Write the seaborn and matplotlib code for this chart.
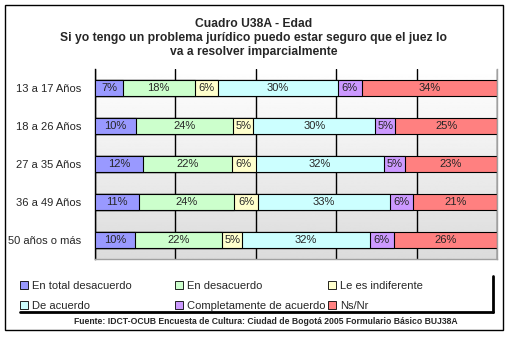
import numpy as np
import pandas as pd
import seaborn as sns
import matplotlib.pyplot as plt
from matplotlib.patches import Rectangle, Patch

sns.set_theme(style="white")
plt.rcParams['font.family'] = ['Liberation Sans', 'DejaVu Sans']

categories = ["13 a 17 Años", "18 a 26 Años", "27 a 35 Años", "36 a 49 Años", "50 años o más"]
series = ["En total desacuerdo", "En desacuerdo", "Le es indiferente",
          "De acuerdo", "Completamente de acuerdo", "Ns/Nr"]
total_desacuerdo = [7, 10, 12, 11, 10]
desacuerdo = [18, 24, 22, 24, 22]
indiferente = [6, 5, 6, 6, 5]
de_acuerdo = [30, 30, 32, 33, 32]
completamente = [6, 5, 5, 6, 6]
ns_nr = [34, 25, 23, 21, 26]
colors = ["#9999FF", "#CCFFCC", "#FFFFCC", "#CCFFFF", "#CC99FF", "#FF8080"]

title = "Cuadro U38A - Edad\nSi yo tengo un problema jurídico puedo estar seguro que el juez lo\nva a resolver imparcialmente"
source = "Fuente: IDCT-OCUB Encuesta de Cultura: Ciudad de Bogotá 2005 Formulario Básico BUJ38A"

vals = np.array([total_desacuerdo, desacuerdo, indiferente, de_acuerdo, completamente, ns_nr], dtype=float)
shares = vals / vals.sum(axis=0) * 100  # 100% stacked
cum = np.cumsum(shares, axis=0)

W, H = 509, 339
fig = plt.figure(figsize=(W / 100, H / 100), dpi=100)
fig.patches.append(Rectangle((5/W, 1-330/H), 498/W, 325/H, transform=fig.transFigure,
                             fill=False, edgecolor='black', linewidth=1.0))
ax = fig.add_axes([95/W, 1-259/H, 402/W, 190/H])

# gradient background
grad = np.linspace(1.0, 0.86, 256).reshape(-1, 1)
ax.imshow(grad, cmap='gray', vmin=0, vmax=1, extent=[0, 100, 4.5, -0.5], aspect='auto', zorder=0)

for i in range(len(series) - 1, -1, -1):
    df = pd.DataFrame({"cat": categories, "val": cum[i]})
    sns.barplot(data=df, x="val", y="cat", orient="h", color=colors[i], saturation=1,
                width=0.4, edgecolor="black", linewidth=0.8, ax=ax, zorder=3)

for i in range(len(series)):
    for j in range(len(categories)):
        left = cum[i][j] - shares[i][j]
        ax.text(left + shares[i][j] / 2, j, f"{int(vals[i][j])}%", ha='center', va='center',
                fontsize=8, zorder=5)

ax.set_xlim(0, 100)
ax.set_ylim(4.5, -0.5)
ax.set_xticks([0, 20, 40, 60, 80, 100])
ax.set_xticklabels([])
ax.xaxis.grid(True, color='black', linewidth=1.0, zorder=1)
ax.set_axisbelow(True)
ax.set_xlabel("")
ax.set_ylabel("")
ax.tick_params(axis='x', length=0)
ax.tick_params(axis='y', which='major', length=0, labelsize=8, pad=10)
ax.set_yticks(np.arange(-0.5, 5, 1.0), minor=True)
ax.tick_params(axis='y', which='minor', length=4, direction='out', color='black', width=1)
ax.spines['top'].set_visible(False)
for s in ['right', 'bottom']:
    ax.spines[s].set_color('#A0A0A0')
    ax.spines[s].set_linewidth(1.0)
    ax.spines[s].set_zorder(6)
ax.spines['left'].set_color('black')
ax.spines['left'].set_linewidth(1.0)

fig.text(254/W, 1-38/H, title, ha='center', va='center', fontsize=8.7, fontweight='bold',
         linespacing=1.2)

# legend: three columns placed at reference positions, filled row-wise
col_x = [20, 175, 328]
for c in range(3):
    hs = [Patch(facecolor=colors[k], edgecolor='black', linewidth=0.6, label=series[k])
          for k in (c, c + 3)]
    leg = fig.legend(handles=hs, ncol=1, loc='upper left', bbox_to_anchor=(col_x[c]/W, 1-281/H),
                     fontsize=8, frameon=False, handlelength=0.7, handleheight=0.7,
                     handletextpad=0.35, labelspacing=0.9, borderpad=0.0, borderaxespad=0.0)
fig.lines.append(plt.Line2D([20/W, 493/W], [1-312/H, 1-312/H], transform=fig.transFigure,
                            color='black', linewidth=2))
fig.lines.append(plt.Line2D([493/W, 493/W], [1-312/H, 1-276/H], transform=fig.transFigure,
                            color='black', linewidth=2))

fig.text(266/W, 1-322/H, source, ha='center', va='center', fontsize=6.2, fontweight='bold')

fig.savefig("out.png", dpi=100)
